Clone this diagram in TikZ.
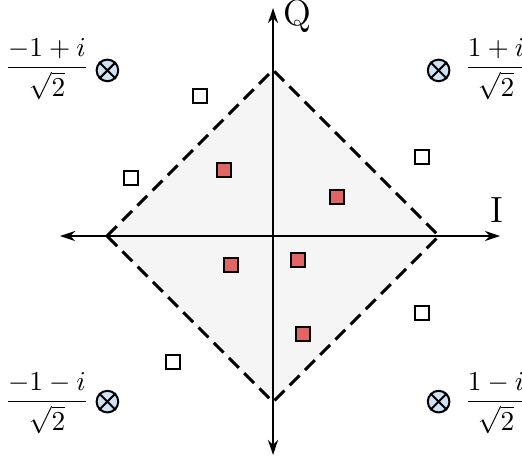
\documentclass[tikz,border=0pt]{standalone}
\usepackage{tikz}
\usepackage{amsmath}
\usetikzlibrary{arrows.meta}
\definecolor{symred}{HTML}{E06666}
\definecolor{refblue}{HTML}{CFE2F3}
\tikzset{
    rxsym/.style={draw, line width=0.9pt, fill=symred, minimum size=0.19cm, inner sep=0pt},
    txsym/.style={draw, line width=0.9pt, fill=white, minimum size=0.19cm, inner sep=0pt},
    refpt/.style={circle, draw, line width=0.8pt, fill=refblue, minimum size=0.3cm, inner sep=0pt},
    symlab/.style={inner sep=0pt, scale=1.08},
}

\begin{document}
\begin{tikzpicture}
    \pgfdeclarelayer{background}
    \pgfsetlayers{background,main}
    \useasboundingbox (-3.792, -3.097) rectangle (3.458, 3.278);
    % decision region
    \coordinate (dl) at (-2.306, 0);
    \coordinate (dr) at (2.306, 0);
    \coordinate (dt) at (0, 2.306);
    \coordinate (db) at (0, -2.306);
    \begin{pgfonlayer}{background}
        \fill[gray!8] (dl) -- (dt) -- (dr) -- (db) -- cycle;
    \end{pgfonlayer}
    \draw[line width=1.2pt, dash pattern=on 5.5pt off 3pt] (dl) -- (dt) -- (dr) -- (db) -- cycle;
    % axes
    \coordinate (xmin) at (-2.958, 0);
    \coordinate (xmax) at (3.153, 0);
    \coordinate (ymin) at (0, -3.042);
    \coordinate (ymax) at (0, 3.167);
    \draw[line width=0.8pt, {Stealth[length=6pt, width=4pt]}-{Stealth[length=6pt, width=4pt]}] (xmin) -- (xmax);
    \draw[line width=0.8pt, {Stealth[length=6pt, width=4pt]}-{Stealth[length=6pt, width=4pt]}] (ymin) -- (ymax);
    \node[font=\Large, inner sep=0pt] (qlab) at (0.333, 3.05) {Q};
    \node[font=\Large, inner sep=0pt] (ilab) at (3.111, 0.361) {I};
    % reference points
    \foreach \nm/\x/\y in {pp/2.3/2.3, mp/-2.3/2.3, mm/-2.3/-2.3, pm/2.3/-2.3} {
        \node[refpt] (\nm) at (\x, \y) {};
        \draw[line width=0.8pt] (\nm.45) -- (\nm.225) (\nm.135) -- (\nm.315);
    }
    \node[symlab] (fpp) at (3.097, 2.319) {$\dfrac{1+i}{\sqrt{2}}$};
    \node[symlab] (fmp) at (-3.139, 2.319) {$\dfrac{-1+i}{\sqrt{2}}$};
    \node[symlab] (fmm) at (-3.139, -2.319) {$\dfrac{-1-i}{\sqrt{2}}$};
    \node[symlab] (fpm) at (3.097, -2.319) {$\dfrac{1-i}{\sqrt{2}}$};
    % received symbols
    \node[rxsym] (r1) at (-0.681, 0.917) {};
    \node[rxsym] (r2) at (0.889, 0.542) {};
    \node[rxsym] (r3) at (-0.583, -0.403) {};
    \node[rxsym] (r4) at (0.347, -0.333) {};
    \node[rxsym] (r5) at (0.417, -1.361) {};
    % other symbols
    \node[txsym] (t1) at (-1.014, 1.944) {};
    \node[txsym] (t2) at (-1.972, 0.806) {};
    \node[txsym] (t3) at (2.069, 1.097) {};
    \node[txsym] (t4) at (2.069, -1.069) {};
    \node[txsym] (t5) at (-1.389, -1.75) {};
\end{tikzpicture}
\end{document}
